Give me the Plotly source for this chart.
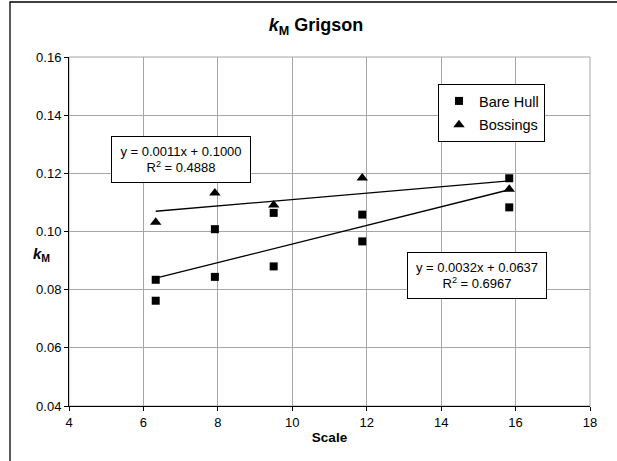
import plotly.graph_objects as go

# Model scale of each hull tested
scale = [6.33, 7.92, 9.50, 11.88, 15.83]

# k_M values, bare hull (two runs per scale) and hull with bossings
bare_hull_run1 = [0.0834, 0.1008, 0.1064, 0.1058, 0.1183]
bare_hull_run2 = [0.0762, 0.0844, 0.0880, 0.0966, 0.1083]
bossings = [0.1032, 0.1132, 0.1091, 0.1184, 0.1145]

# Linear trend fits: slope, intercept, R^2
bare_hull_fit = (0.0032, 0.0637, 0.6967)
bossings_fit = (0.0011, 0.1000, 0.4888)

x_ticks = [4, 6, 8, 10, 12, 14, 16, 18]
y_ticks = [0.04, 0.06, 0.08, 0.10, 0.12, 0.14, 0.16]

FONT = "Arial, Liberation Sans, sans-serif"

W, H = 617, 461
L, R, T, B = 69, 27, 57, 55
pw, ph = W - L - R, H - T - B


def px_x(p):
    return (p - L) / pw


def px_y(p):
    return (H - B - p) / ph


def fit_line(fit, xs):
    m, c, _ = fit
    x0, x1 = min(xs), max(xs)
    return [x0, x1], [m * x0 + c, m * x1 + c]


def fit_label(fit):
    m, c, r2 = fit
    return f"y = {m:.4f}x + {c:.4f}<br>R<sup>2</sup> = {r2:.4f}"


fig = go.Figure()

bx = scale + scale
by = bare_hull_run1 + bare_hull_run2

fig.add_trace(go.Scatter(
    x=bx, y=by, mode="markers", name="Bare Hull",
    legendgroup="a",
    marker=dict(symbol="square", size=8, color="black"),
))
fig.add_trace(go.Scatter(
    x=scale, y=bossings, mode="markers", name="Bossings",
    legendgroup="b",
    marker=dict(symbol="triangle-up", size=10, color="black"),
))

lx, ly = fit_line(bare_hull_fit, scale)
fig.add_trace(go.Scatter(x=lx, y=ly, mode="lines", showlegend=False,
                         line=dict(color="black", width=1.3)))
lx, ly = fit_line(bossings_fit, scale)
fig.add_trace(go.Scatter(x=lx, y=ly, mode="lines", showlegend=False,
                         line=dict(color="black", width=1.3)))

fig.update_layout(
    width=W, height=H,
    margin=dict(l=L, r=R, t=T, b=B),
    paper_bgcolor="white", plot_bgcolor="white",
    font=dict(family=FONT, size=13, color="black"),
    title=dict(
        text="<b><i>k</i><sub>M</sub> Grigson</b>",
        x=316 / W, xanchor="center", y=1 - 25 / H, yanchor="middle",
        font=dict(size=18, family=FONT),
    ),
    legend=dict(
        x=px_x(438), y=px_y(84), xanchor="left", yanchor="top",
        bordercolor="black", borderwidth=1, bgcolor="white",
        font=dict(size=14.5, family=FONT),
        traceorder="grouped", tracegroupgap=2,
        itemwidth=30,
    ),
    showlegend=True,
)

fig.update_xaxes(
    range=[4, 18], tickvals=x_ticks, ticktext=[str(v) for v in x_ticks],
    showgrid=True, gridcolor="#a6a6a6", gridwidth=1,
    zeroline=False, showline=True, linecolor="black", linewidth=1,
    ticks="outside", ticklen=4, tickcolor="black",
    tickfont=dict(size=13, family=FONT),
    title=dict(text="<b>Scale</b>", standoff=3, font=dict(size=13.5, family=FONT)),
)
fig.update_yaxes(
    range=[0.04, 0.16], tickvals=y_ticks, ticktext=[f"{v:.2f}" for v in y_ticks],
    showgrid=True, gridcolor="#a6a6a6", gridwidth=1,
    zeroline=False, showline=True, linecolor="black", linewidth=1,
    ticks="outside", ticklen=4, tickcolor="black",
    tickfont=dict(size=13, family=FONT),
)

# Plot-area frame (grey) and outer chart frame (top and left edges in view)
fig.add_shape(type="rect", xref="paper", yref="paper", x0=0, x1=1, y0=0, y1=1,
              line=dict(color="#a6a6a6", width=1), layer="below")
fig.add_shape(type="rect", xref="paper", yref="paper",
              x0=px_x(10), x1=px_x(660), y0=px_y(490), y1=px_y(2),
              line=dict(color="black", width=1.3), layer="above")

# Horizontal y-axis label
fig.add_annotation(
    xref="paper", yref="paper", x=px_x(31), y=px_y(254),
    text="<b><i>k</i></b><b><sub>M</sub></b>", showarrow=False,
    font=dict(size=15, family=FONT),
)

# Trend-line equation boxes
fig.add_annotation(
    x=7.0, y=0.1246, text=fit_label(bossings_fit), showarrow=False,
    bordercolor="black", borderwidth=1, bgcolor="white", borderpad=3,
    width=132, height=39, align="center", font=dict(size=13, family=FONT),
)
fig.add_annotation(
    x=14.95, y=0.0849, text=fit_label(bare_hull_fit), showarrow=False,
    bordercolor="black", borderwidth=1, bgcolor="white", borderpad=3,
    width=132, height=39, align="center", font=dict(size=13, family=FONT),
)

fig.write_html("out.html")
